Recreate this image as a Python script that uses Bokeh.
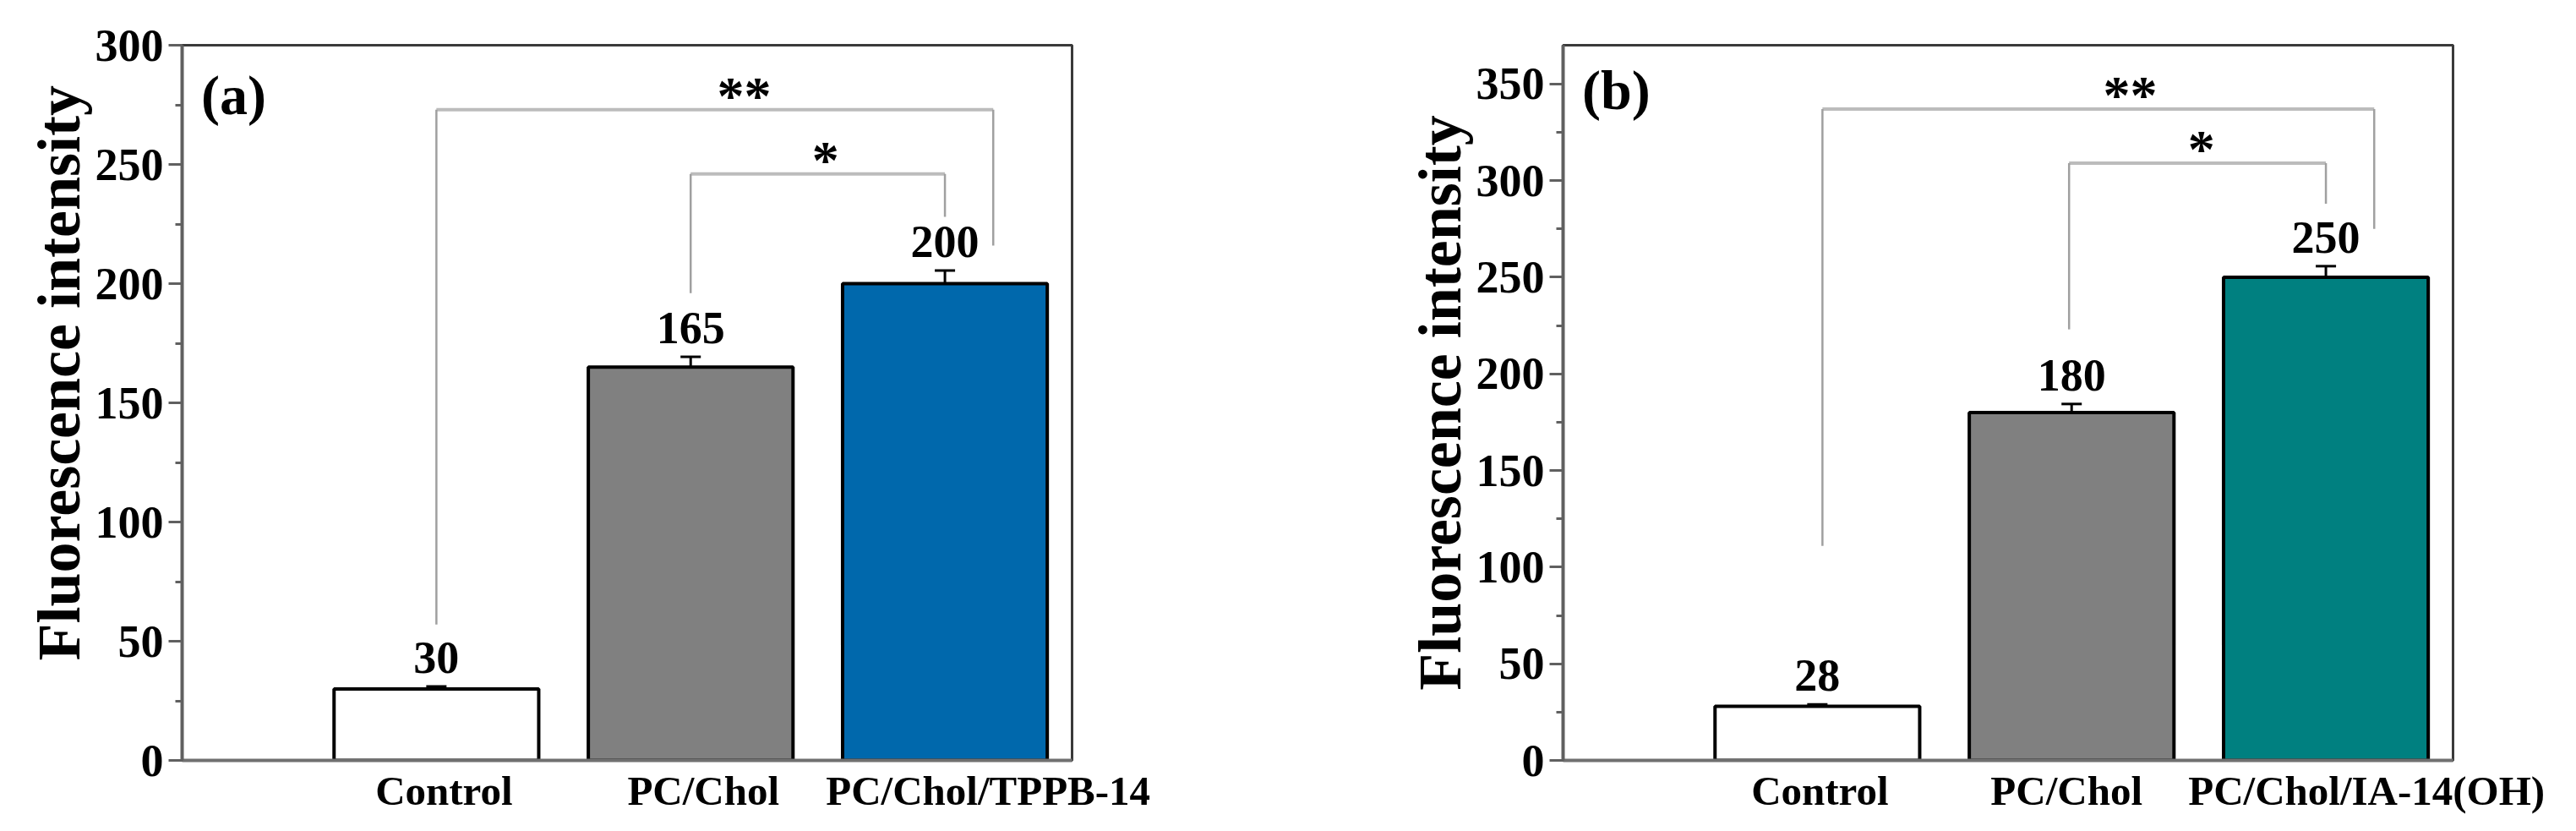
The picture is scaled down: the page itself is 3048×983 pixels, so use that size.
from bokeh.plotting import figure
from bokeh.models import Range1d, FixedTicker, ColumnDataSource, Whisker, TeeHead, Title
from bokeh.layouts import row
from bokeh.embed import file_html
from bokeh.resources import INLINE
from bokeh.core.properties import value

# ---------------- data ----------------
positions = [1, 2, 3]

cats_a = ["Control", "PC/Chol", "PC/Chol/TPPB-14"]
vals_a = [30, 165, 200]
errs_a = [1.0, 4.3, 5.5]
colors_a = ["#FFFFFF", "#808080", "#0068AC"]
ymax_a = 300
yticks_a = [0, 50, 100, 150, 200, 250, 300]
br_a_left = [1.0, 2.0]
br_a_right = [3.19, 3.0]
br_a_top = [273, 246]
br_a_lbot = [57, 196]
br_a_rbot = [216, 228]
br_a_star = ["**", "*"]
br_a_starx = [2.21, 2.53]

cats_b = ["Control", "PC/Chol", "PC/Chol/IA-14(OH)"]
vals_b = [28, 180, 250]
errs_b = [1.0, 4.4, 5.7]
colors_b = ["#FFFFFF", "#808080", "#008080"]
ymax_b = 370
yticks_b = [0, 50, 100, 150, 200, 250, 300, 350]
br_b_left = [1.02, 1.99]
br_b_right = [3.19, 3.0]
br_b_top = [337, 309]
br_b_lbot = [111, 223]
br_b_rbot = [275, 288]
br_b_star = ["**", "*"]
br_b_starx = [2.23, 2.51]

YLABEL = "Fluorescence intensity"
FONT = "Liberation Serif"

# label placement (style/position, not data)
labpos_a = [1.03, 2.05, 3.17]
labpos_b = [1.01, 1.98, 3.16]


def make_panel(tag, tag_y, cats, labpos, vals, errs, colors, ymax, yticks,
               bl, brr, bt, blb, brb, stars, starx, title_align, title_offset,
               width, left, right):
    p = figure(width=width, height=975, output_backend="svg", toolbar_location=None,
               x_range=Range1d(0, 3.5), y_range=Range1d(0, ymax),
               min_border_left=left, min_border_right=right,
               min_border_top=53, min_border_bottom=76)
    p.grid.visible = False
    p.outline_line_color = "#3a3a3a"
    p.outline_line_width = 3
    p.background_fill_color = "white"
    p.border_fill_color = "white"

    src = ColumnDataSource(dict(x=positions, top=vals, color=colors,
                                upper=[v + e for v, e in zip(vals, errs)],
                                lower=[v - e for v, e in zip(vals, errs)],
                                lab=[str(v) for v in vals]))
    p.vbar(x="x", top="top", bottom=0, width=0.805, source=src,
           fill_color="color", line_color="black", line_width=4)

    w = Whisker(base="x", upper="upper", lower="lower", source=src,
                line_color="black", line_width=3,
                upper_head=TeeHead(size=24, line_width=3, line_color="black"),
                lower_head=TeeHead(size=24, line_width=3, line_color="black"))
    p.add_layout(w)

    p.text(x="x", y="upper", text="lab", source=src,
           text_font=value(FONT), text_font_style="bold", text_font_size="54px",
           text_align="center", text_baseline="alphabetic", y_offset=-34,
           text_color="black")

    # significance brackets
    p.segment(x0=bl, y0=bt, x1=brr, y1=bt, line_color="#bcbcbc", line_width=4)
    p.segment(x0=bl, y0=blb, x1=bl, y1=bt, line_color="#a0a0a0", line_width=2.5)
    p.segment(x0=brr, y0=brb, x1=brr, y1=bt, line_color="#a0a0a0", line_width=2.5)
    p.text(x=starx, y=bt, text=stars,
           text_font=value(FONT), text_font_style="bold", text_font_size="64px",
           text_align="center", text_baseline="alphabetic", y_offset=-16,
           text_color="black")

    p.text(x=[0.075], y=[tag_y], text=[tag],
           text_font=value(FONT), text_font_style="bold", text_font_size="66px",
           text_align="left", text_baseline="middle", text_color="black")

    # y-axis title
    p.add_layout(Title(text=YLABEL, align=title_align, offset=title_offset, standoff=0,
                       text_font=FONT, text_font_style="bold", text_font_size="72px",
                       text_color="black"), "left")

    ya = p.yaxis[0]
    ya.ticker = FixedTicker(ticks=yticks,
                            minor_ticks=[t + 25 for t in yticks if t + 25 < ymax])
    ya.major_label_text_font = FONT
    ya.major_label_text_font_style = "bold"
    ya.major_label_text_font_size = "54px"
    ya.major_label_text_color = "black"
    ya.major_label_standoff = 6
    ya.major_tick_out = 16
    ya.major_tick_in = 0
    ya.minor_tick_out = 8
    ya.minor_tick_in = 0
    ya.major_tick_line_width = 3
    ya.minor_tick_line_width = 3
    ya.major_tick_line_color = "#606060"
    ya.minor_tick_line_color = "#606060"
    ya.axis_line_color = "#606060"
    ya.axis_line_width = 4

    xa = p.xaxis[0]
    xa.ticker = FixedTicker(ticks=labpos, minor_ticks=[])
    xa.major_label_overrides = {pos: c for pos, c in zip(labpos, cats)}
    xa.major_label_text_font = FONT
    xa.major_label_text_font_style = "bold"
    xa.major_label_text_font_size = "49px"
    xa.major_label_text_color = "black"
    xa.major_label_standoff = 8
    xa.major_tick_out = 0
    xa.major_tick_in = 0
    xa.axis_line_color = "#707070"
    xa.axis_line_width = 4
    return p


pa = make_panel("(a)", 279, cats_a, labpos_a, vals_a, errs_a, colors_a, ymax_a, yticks_a,
                br_a_left, br_a_right, br_a_top, br_a_lbot, br_a_rbot, br_a_star, br_a_starx,
                "left", 118, width=1648, left=215, right=380)
pb = make_panel("(b)", 347, cats_b, labpos_b, vals_b, errs_b, colors_b, ymax_b, yticks_b,
                br_b_left, br_b_right, br_b_top, br_b_lbot, br_b_rbot, br_b_star, br_b_starx,
                "center", 0, width=1384, left=201, right=130)

layout = row(pa, pb)
open("out.html", "w").write(file_html(layout, INLINE))
